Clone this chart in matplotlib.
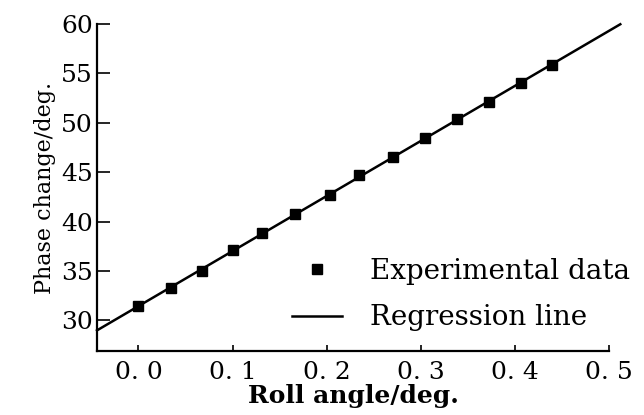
import numpy as np
import matplotlib
matplotlib.use('Agg')
import matplotlib.pyplot as plt

plt.rcParams['font.family'] = 'DejaVu Serif'

# Roll angle (deg.) and measured phase change (deg.)
roll_angle = [0.000, 0.035, 0.068, 0.100, 0.131, 0.166, 0.204,
              0.234, 0.271, 0.304, 0.338, 0.372, 0.406, 0.439]
phase_change = [31.5, 33.3, 35.0, 37.1, 38.8, 40.75, 42.7,
                44.7, 46.5, 48.5, 50.4, 52.1, 54.0, 55.8]

x_ticks = [0.0, 0.1, 0.2, 0.3, 0.4, 0.5]
x_ticklabels = ['0. 0', '0. 1', '0. 2', '0. 3', '0. 4', '0. 5']
y_ticks = [30, 35, 40, 45, 50, 55, 60]

# regression line through the data
slope, intercept = np.polyfit(roll_angle, phase_change, 1)
line_x = np.array([-0.044, 0.512])
line_y = slope * line_x + intercept

fig = plt.figure(figsize=(6.44, 4.15), dpi=100)
ax = fig.add_axes([97 / 644, 1 - 351 / 415, 512 / 644, 327 / 415])

ax.plot(line_x, line_y, color='black', lw=1.8, clip_on=False,
        label='Regression line')
ax.plot(roll_angle, phase_change, 's', color='black', ms=7.5,
        label='Experimental data')

ax.set_xlim(-0.044, 0.5)
ax.set_ylim(26.9, 60)
ax.spines['top'].set_visible(False)
ax.spines['right'].set_visible(False)
ax.spines['left'].set_linewidth(1.6)
ax.spines['bottom'].set_linewidth(1.6)

ax.set_xticks(x_ticks)
ax.set_xticklabels(x_ticklabels)
ax.set_yticks(y_ticks)
ax.tick_params(axis='x', direction='in', length=4, width=1.2, labelsize=18, pad=7)
ax.tick_params(axis='y', direction='in', length=9, width=1.2, labelsize=18, pad=3)

ax.set_xlabel('Roll angle/deg.', fontsize=18, fontweight='bold', labelpad=0)
ax.set_ylabel('Phase change/deg.', fontsize=16, labelpad=4)

h, l = ax.get_legend_handles_labels()
ax.legend(h[::-1], l[::-1], loc='upper left', frameon=False,
          bbox_to_anchor=(292 / 644, 1 - 258 / 415), bbox_transform=fig.transFigure,
          fontsize=20, borderpad=0, borderaxespad=0, handlelength=1.8,
          handletextpad=1.0, labelspacing=0.7, markerscale=0.9)

fig.savefig('out.png', dpi=100)
